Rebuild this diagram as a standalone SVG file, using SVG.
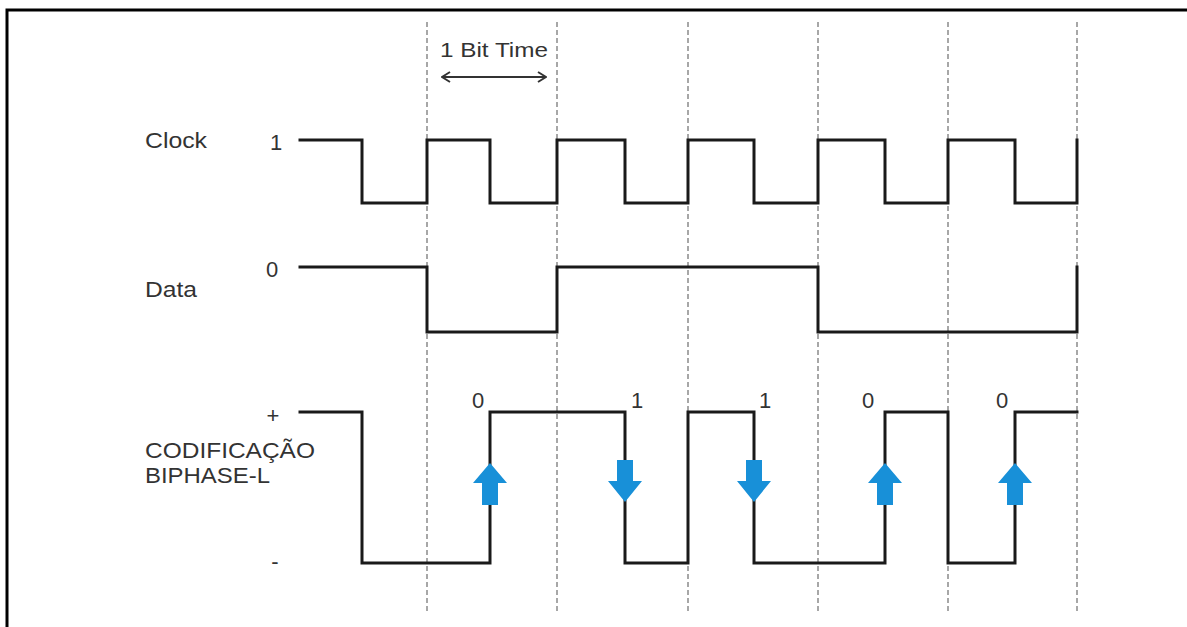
<svg xmlns="http://www.w3.org/2000/svg" width="1187" height="627" viewBox="0 0 1187 627">
  <style>
    .lbl { font-family: "Liberation Sans", Arial, sans-serif; font-size: 22px; fill: #333; }
    .dig { font-family: "Liberation Sans", Arial, sans-serif; font-size: 22px; fill: #333; text-anchor: middle; }
    .sig { fill: none; stroke: #1a1a1a; stroke-width: 3; stroke-linejoin: miter; stroke-linecap: square; }
    .grid { stroke: #8a8a8a; stroke-width: 1.5; stroke-dasharray: 5 3; }
    .barrow { fill: #1890d8; }
  </style>
  <defs>
    <marker id="chev" viewBox="0 0 10 12" refX="9" refY="6" markerWidth="10" markerHeight="12" markerUnits="userSpaceOnUse" orient="auto-start-reverse">
      <path d="M1,1 L9,6 L1,11" fill="none" stroke="#333" stroke-width="2"/>
    </marker>
  </defs>
  <rect width="1187" height="627" fill="#ffffff"/>
  <path d="M7,640 L7,10 L1200,10" fill="none" stroke="#000" stroke-width="3"/>

  <g id="grid">
    <line class="grid" x1="427" y1="22" x2="427" y2="612"/>
    <line class="grid" x1="557" y1="22" x2="557" y2="612"/>
    <line class="grid" x1="688" y1="22" x2="688" y2="612"/>
    <line class="grid" x1="818" y1="22" x2="818" y2="612"/>
    <line class="grid" x1="948" y1="22" x2="948" y2="612"/>
    <line class="grid" x1="1077" y1="22" x2="1077" y2="612"/>
  </g>

  <g id="bit-time">
    <text class="lbl" x="440" y="57" textLength="108" lengthAdjust="spacingAndGlyphs" style="font-size:21px">1 Bit Time</text>
    <line x1="442" y1="77" x2="546" y2="77" stroke="#333" stroke-width="1.8" marker-start="url(#chev)" marker-end="url(#chev)"/>
  </g>

  <g id="clock">
    <text class="lbl" x="145" y="148" textLength="62" lengthAdjust="spacingAndGlyphs">Clock</text>
    <text class="dig" x="276" y="150">1</text>
    <path class="sig" d="M300,140 H362 V203 H427 V140 H490 V203 H557 V140 H625 V203 H688 V140 H754 V203 H818 V140 H885 V203 H948 V140 H1015 V203 H1077 V140"/>
  </g>

  <g id="data">
    <text class="lbl" x="145" y="297" textLength="52" lengthAdjust="spacingAndGlyphs">Data</text>
    <text class="dig" x="272" y="277">0</text>
    <path class="sig" d="M300,267 H427 V332 H557 V267 H818 V332 H1077 V267"/>
  </g>

  <g id="biphase">
    <text class="dig" x="273" y="423">+</text>
    <text class="dig" x="275" y="569">-</text>
    <text class="lbl" x="145" y="458" textLength="170" lengthAdjust="spacingAndGlyphs">CODIFICAÇÃO</text>
    <text class="lbl" x="145" y="483" textLength="125" lengthAdjust="spacingAndGlyphs">BIPHASE-L</text>
    <path class="sig" d="M300,412 H362 V563 H490 V412 H625 V563 H688 V412 H754 V563 H885 V412 H948 V563 H1015 V412 H1077"/>
  </g>

  <g id="bit-labels">
    <text class="dig" x="478" y="408">0</text>
    <text class="dig" x="637" y="408">1</text>
    <text class="dig" x="765" y="408">1</text>
    <text class="dig" x="868" y="408">0</text>
    <text class="dig" x="1002" y="408">0</text>
  </g>

  <g id="transition-arrows">
    <path class="barrow" d="M490,463 L507,483 L498,483 L498,505 L482,505 L482,483 L473,483 Z"/>
    <path class="barrow" d="M625,502 L642,481 L633,481 L633,460 L617,460 L617,481 L608,481 Z"/>
    <path class="barrow" d="M754,502 L771,481 L762,481 L762,460 L746,460 L746,481 L737,481 Z"/>
    <path class="barrow" d="M885,463 L902,483 L893,483 L893,505 L877,505 L877,483 L868,483 Z"/>
    <path class="barrow" d="M1015,463 L1032,483 L1023,483 L1023,505 L1007,505 L1007,483 L998,483 Z"/>
  </g>
</svg>
